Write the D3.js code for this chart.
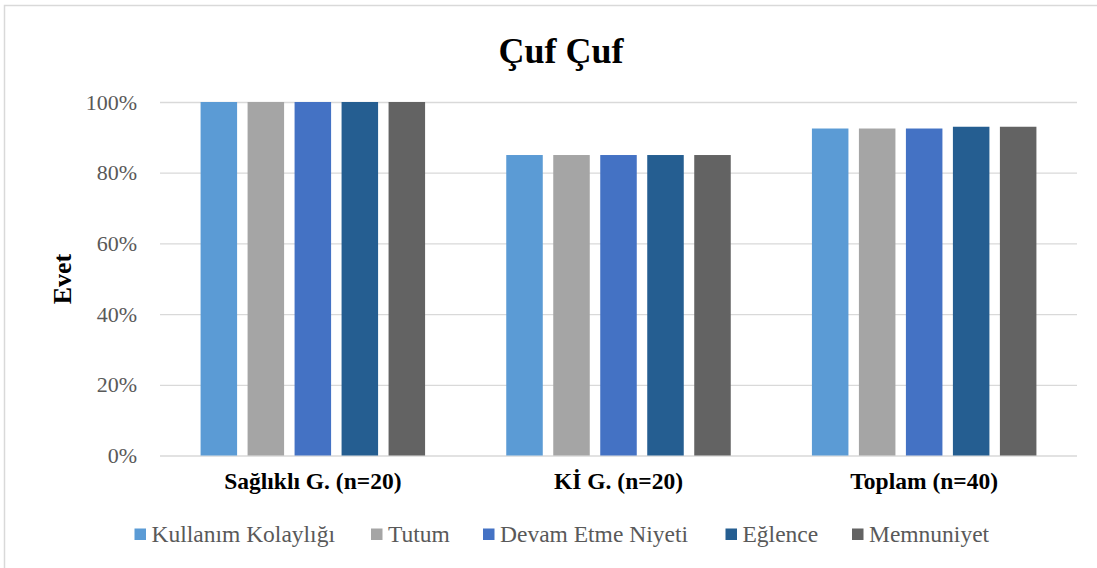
<!DOCTYPE html>
<html><head><meta charset="utf-8">
<script src="https://cdn.jsdelivr.net/npm/d3@7"></script>
<style>body{margin:0;background:#fff}svg{display:block}</style>
</head><body>
<svg id="c" width="1097" height="568"></svg>
<script>
const categories = ["Sağlıklı G. (n=20)", "Kİ G. (n=20)", "Toplam (n=40)"];
const seriesNames = ["Kullanım Kolaylığı", "Tutum", "Devam Etme Niyeti", "Eğlence", "Memnuniyet"];
const kullanim = [1.00, 0.85, 0.925];
const tutum = [1.00, 0.85, 0.925];
const devam = [1.00, 0.85, 0.925];
const eglence = [1.00, 0.85, 0.93];
const memnuniyet = [1.00, 0.85, 0.93];
const yTicks = [0, 0.2, 0.4, 0.6, 0.8, 1.0];
const colors = ["#5B9BD5", "#A5A5A5", "#4472C4", "#255E91", "#636363"];
const seriesValues = [kullanim, tutum, devam, eglence, memnuniyet];

(function(){
const svg = d3.select("#c");
const font = "'Liberation Serif','Times New Roman',serif";
svg.append("rect").attr("x",4.5).attr("y",5.5).attr("width",1100).attr("height",570)
  .attr("fill","#fff").attr("stroke","#d9d9d9").attr("stroke-width",1.5);

const pL = 160, pR = 1077, pT = 102, pB = 455.5;
const x0 = d3.scaleBand().domain(categories).range([pL, pR]).padding(0);
const y = d3.scaleLinear().domain([0,1]).range([pB, pT]);
const groupW = 224.5;
const x1 = d3.scaleBand().domain(seriesNames).range([0, groupW]).paddingInner(0.223).paddingOuter(0);

const yAxis = d3.axisLeft(y).tickValues(yTicks).tickSize(-(pR-pL)).tickFormat(d3.format(".0%")).tickPadding(23);
const ga = svg.append("g").attr("transform",`translate(${pL},0)`).call(yAxis);
ga.select(".domain").remove();
ga.selectAll(".tick line").attr("stroke","#d9d9d9").attr("stroke-width",1.3);
ga.selectAll(".tick text").attr("fill","#595959").style("font-family",font).style("font-size","22px");

const rows = [];
categories.forEach((c,i)=>seriesNames.forEach((s,j)=>rows.push({c,s,j,v:seriesValues[j][i]})));
svg.append("g").selectAll("rect").data(rows).join("rect")
  .attr("x",d=>x0(d.c)+(x0.bandwidth()-groupW)/2+x1(d.s))
  .attr("width",x1.bandwidth())
  .attr("y",d=>y(d.v))
  .attr("height",d=>y(0)-y(d.v))
  .attr("fill",d=>colors[d.j]);

const xAxis = d3.axisBottom(x0).tickSize(0).tickPadding(17);
const gx = svg.append("g").attr("transform",`translate(0,${pB})`).call(xAxis);
gx.select(".domain").remove();
gx.selectAll(".tick text").attr("fill","#000").style("font-family",font).style("font-size","23.5px").style("font-weight","bold");

svg.append("text").attr("x",561).attr("y",63).attr("text-anchor","middle")
  .style("font-family",font).style("font-size","36px").style("font-weight","bold").text("Çuf Çuf");

svg.append("text").attr("transform","translate(71,279) rotate(-90)").attr("text-anchor","middle")
  .style("font-family",font).style("font-size","26px").style("font-weight","bold").text("Evet");

const legX = [134.5, 371, 483, 725.5, 852];
const lg = svg.append("g").selectAll("g").data(seriesNames).join("g")
  .attr("transform",(d,i)=>`translate(${legX[i]},528.5)`);
lg.append("rect").attr("width",11.5).attr("height",11.5).attr("fill",(d,i)=>colors[i]);
lg.append("text").attr("x",17).attr("y",13.5).attr("fill","#595959")
  .style("font-family",font).style("font-size","23.5px").text(d=>d);
})();
</script>
</body></html>
